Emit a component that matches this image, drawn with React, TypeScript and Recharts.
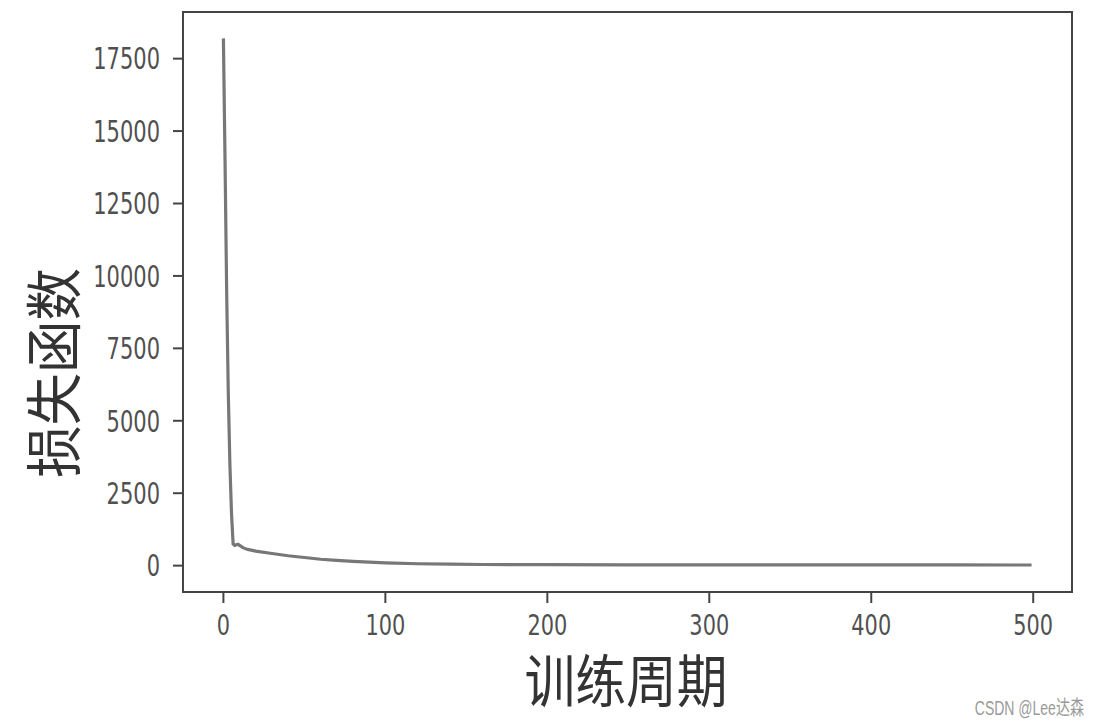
import { LineChart, Line, XAxis, YAxis, ReferenceArea, Label } from 'recharts';

const epochs = [0, 1, 2, 3, 4, 5, 6, 7, 8, 9, 10, 12, 15, 20, 30, 40, 50, 60, 70, 80, 90, 100, 120, 140, 160, 200, 250, 300, 350, 400, 450, 499];
const losses = [18200, 14000, 9500, 6000, 3500, 1800, 750, 700, 720, 740, 700, 620, 560, 500, 420, 340, 280, 220, 180, 150, 120, 95, 65, 50, 40, 32, 28, 26, 25, 24, 23, 22];

const xTicks = [0, 100, 200, 300, 400, 500];
const yTicks = [0, 2500, 5000, 7500, 10000, 12500, 15000, 17500];

const X_DOMAIN: [number, number] = [-24.95, 523.95];
const Y_DOMAIN: [number, number] = [-910, 19110];

const data = epochs.map((e, i) => ({ epoch: e, loss: losses[i] }));

const TICK_FONT = 'DejaVu Sans';
const CJK_FONT = '"Noto Sans CJK SC", sans-serif';

const XTick = ({ x, y, payload }: any) => (
  <text
    x={x}
    y={y}
    dy="0.74em"
    textAnchor="middle"
    fontFamily={TICK_FONT}
    fontSize={29}
    fill="#505050"
    transform={`translate(${x} 0) scale(0.72 1) translate(${-x} 0)`}
  >
    {payload.value}
  </text>
);

const YTick = ({ x, y, payload }: any) => (
  <text
    x={x}
    y={y}
    dy="0.36em"
    textAnchor="end"
    fontFamily={TICK_FONT}
    fontSize={30}
    fill="#505050"
    transform={`translate(${x} 0) scale(0.7 1) translate(${-x} 0)`}
  >
    {payload.value}
  </text>
);

const XTitle = ({ viewBox }: any) => {
  const cx = viewBox.x + viewBox.width / 2 - 1.5;
  const cy = viewBox.y + 85;
  return (
    <text
      x={cx}
      y={cy}
      textAnchor="middle"
      dominantBaseline="central"
      fontFamily={CJK_FONT}
      fontSize={57}
      fill="#333"
      transform={`translate(${cx} 0) scale(0.89 1) translate(${-cx} 0)`}
    >
      训练周期
    </text>
  );
};

const YTitle = ({ viewBox }: any) => {
  const cx = viewBox.x + 50;
  const cy = viewBox.y + viewBox.height / 2 + 71;
  return (
    <text
      x={cx}
      y={cy}
      textAnchor="middle"
      dominantBaseline="central"
      fontFamily={CJK_FONT}
      fontSize={57}
      fill="#333"
      transform={`rotate(-90 ${cx} ${cy}) translate(${cx} ${cy}) scale(0.92 1) translate(${-cx} ${-cy})`}
    >
      损失函数
    </text>
  );
};

export default function App() {
  return (
    <div style={{ position: 'absolute', left: 0, top: 0, width: 1100, height: 721, background: '#fff' }}>
      <LineChart width={1100} height={721} data={data} margin={{ top: 12, right: 28, bottom: 0, left: 0 }}>
        <XAxis
          dataKey="epoch"
          type="number"
          domain={X_DOMAIN}
          allowDataOverflow
          ticks={xTicks}
          height={129}
          tickSize={11}
          tickMargin={11}
          tick={<XTick />}
          stroke="#444"
          strokeWidth={2}
        >
          <Label content={<XTitle />} />
        </XAxis>
        <YAxis
          type="number"
          domain={Y_DOMAIN}
          allowDataOverflow
          ticks={yTicks}
          width={183}
          tickSize={10}
          tickMargin={13}
          tick={<YTick />}
          stroke="#444"
          strokeWidth={2}
        >
          <Label content={<YTitle />} />
        </YAxis>
        <ReferenceArea
          x1={X_DOMAIN[0]}
          x2={X_DOMAIN[1]}
          y1={Y_DOMAIN[0]}
          y2={Y_DOMAIN[1]}
          fill="none"
          fillOpacity={0}
          stroke="#444"
          strokeWidth={2}
          ifOverflow="visible"
        />
        <Line
          type="linear"
          dataKey="loss"
          stroke="#777"
          strokeWidth={3.2}
          dot={false}
          isAnimationActive={false}
        />
      </LineChart>
      <div
        style={{
          position: 'absolute',
          right: 16,
          top: 692,
          fontFamily: '"Liberation Sans", "Noto Sans CJK SC", sans-serif',
          fontSize: 20,
          color: '#9a9a9a',
          transform: 'scale(0.7, 1)',
          transformOrigin: 'right center',
          whiteSpace: 'nowrap',
        }}
      >
        CSDN @Lee达森
      </div>
    </div>
  );
}
